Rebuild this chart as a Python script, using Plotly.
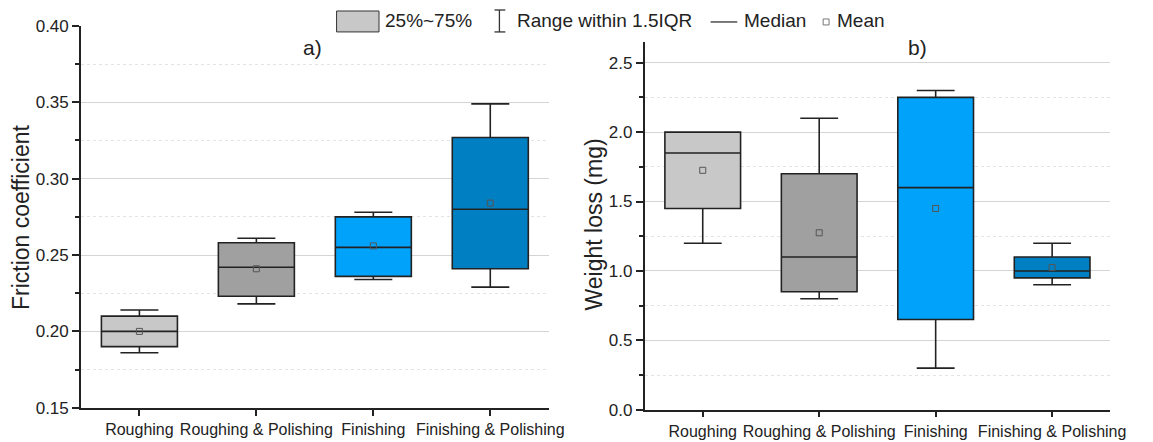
import plotly.graph_objects as go

# ---------------- data ----------------
categories = ["Roughing", "Roughing & Polishing", "Finishing", "Finishing & Polishing"]
colors = ["#C8C8C8", "#A0A0A0", "#00A2FA", "#0080C2"]

# a) Friction coefficient
fc_q1 = [0.190, 0.223, 0.236, 0.241]
fc_median = [0.200, 0.242, 0.255, 0.280]
fc_q3 = [0.210, 0.258, 0.275, 0.327]
fc_low = [0.186, 0.218, 0.234, 0.229]
fc_high = [0.214, 0.261, 0.278, 0.349]
fc_mean = [0.200, 0.241, 0.256, 0.284]

# b) Weight loss (mg)
wl_q1 = [1.45, 0.85, 0.65, 0.95]
wl_median = [1.85, 1.10, 1.60, 1.00]
wl_q3 = [2.00, 1.70, 2.25, 1.10]
wl_low = [1.20, 0.80, 0.30, 0.90]
wl_high = [2.00, 2.10, 2.30, 1.20]
wl_mean = [1.725, 1.275, 1.45, 1.025]

W, H = 1153, 442
FONT = "Arial, Liberation Sans, sans-serif"
DARK = "#222222"


def px(x):
    return x / W


def py(y):
    # vertical placement (pixels from top)
    yt = (y - 9) / 0.96
    return 1 - yt / H


fig = go.Figure()

for i, cat in enumerate(categories):
    fig.add_trace(go.Box(
        x=[cat], q1=[fc_q1[i]], median=[fc_median[i]], q3=[fc_q3[i]],
        lowerfence=[fc_low[i]], upperfence=[fc_high[i]],
        fillcolor=colors[i], line=dict(color=DARK, width=1.6),
        whiskerwidth=0.5, width=0.65, boxpoints=False, showlegend=False,
        xaxis="x", yaxis="y", hoverinfo="skip"))
    fig.add_trace(go.Box(
        x=[cat], q1=[wl_q1[i]], median=[wl_median[i]], q3=[wl_q3[i]],
        lowerfence=[wl_low[i]], upperfence=[wl_high[i]],
        fillcolor=colors[i], line=dict(color=DARK, width=1.6),
        whiskerwidth=0.5, width=0.65, boxpoints=False, showlegend=False,
        xaxis="x2", yaxis="y2", hoverinfo="skip"))

mean_marker = dict(symbol="square-open", size=6, color="#555555", line=dict(width=1))
fig.add_trace(go.Scatter(x=categories, y=fc_mean, mode="markers", marker=mean_marker,
                         showlegend=False, xaxis="x", yaxis="y", hoverinfo="skip"))
fig.add_trace(go.Scatter(x=categories, y=wl_mean, mode="markers", marker=mean_marker,
                         showlegend=False, xaxis="x2", yaxis="y2", hoverinfo="skip"))

xcommon = dict(type="category", range=[-0.5, 3.5], showline=True, linecolor=DARK,
               linewidth=1.5, ticks="outside", ticklen=6, tickwidth=1.5, tickcolor=DARK,
               showgrid=False, zeroline=False,
               tickfont=dict(family=FONT, size=16, color=DARK))
ycommon = dict(showline=True, linecolor=DARK, linewidth=1.5, ticks="outside",
               ticklen=7, tickwidth=1.5, tickcolor=DARK, showgrid=True,
               gridcolor="#D4D4D4", gridwidth=1, zeroline=False,
               tickfont=dict(family=FONT, size=17, color=DARK))

fig.update_layout(
    autosize=True, margin=dict(l=0, r=0, t=0, b=0),
    paper_bgcolor="white", plot_bgcolor="white", boxmode="overlay",
    xaxis=dict(domain=[px(82), px(556)], anchor="y", **xcommon),
    yaxis=dict(domain=[py(409), py(26)], anchor="x", range=[0.15, 0.40], dtick=0.05,
               tickformat=".2f",
               minor=dict(dtick=0.025, showgrid=True, gridcolor="#E4E4E4", griddash="dot",
                          ticks="outside", ticklen=4, tickcolor=DARK), **ycommon),
    xaxis2=dict(domain=[px(653), px(1125)], anchor="y2", **xcommon),
    yaxis2=dict(domain=[py(411), py(42)], anchor="x2", range=[0, 2.65], dtick=0.5,
                tickformat=".1f",
                minor=dict(dtick=0.25, showgrid=True, gridcolor="#E4E4E4", griddash="dot",
                           ticks="outside", ticklen=4, tickcolor=DARK), **ycommon),
)

annotations = [
    dict(text="Friction coefficient", x=px(22), y=py(218), textangle=-90,
         font=dict(family=FONT, size=23, color=DARK)),
    dict(text="Weight loss (mg)", x=px(602), y=py(225), textangle=-90,
         font=dict(family=FONT, size=23, color=DARK)),
    dict(text="a)", x=px(317), y=py(48), font=dict(family=FONT, size=21, color=DARK)),
    dict(text="b)", x=px(930), y=py(48), font=dict(family=FONT, size=21, color=DARK)),
    dict(text="25%~75%", x=px(388), y=py(21), xanchor="left",
         font=dict(family=FONT, size=19, color=DARK)),
    dict(text="Range within 1.5IQR", x=px(522), y=py(21), xanchor="left",
         font=dict(family=FONT, size=19, color=DARK)),
    dict(text="Median", x=px(752), y=py(21), xanchor="left",
         font=dict(family=FONT, size=19, color=DARK)),
    dict(text="Mean", x=px(846), y=py(21), xanchor="left",
         font=dict(family=FONT, size=19, color=DARK)),
]
for a in annotations:
    a.update(xref="paper", yref="paper", showarrow=False)
    a.setdefault("xanchor", "center")
    a.setdefault("yanchor", "middle")
fig.update_layout(annotations=annotations)

shapes = [
    dict(type="rect", x0=px(341), x1=px(384), y0=py(32), y1=py(11),
         fillcolor="#C8C8C8", line=dict(color="#333333", width=1)),
    dict(type="line", x0=px(506), x1=px(506), y0=py(32), y1=py(10),
         line=dict(color="#333333", width=1.3)),
    dict(type="line", x0=px(501), x1=px(512), y0=py(10), y1=py(10),
         line=dict(color="#333333", width=1.3)),
    dict(type="line", x0=px(501), x1=px(512), y0=py(32), y1=py(32),
         line=dict(color="#333333", width=1.3)),
    dict(type="line", x0=px(720), x1=px(747), y0=py(22), y1=py(22),
         line=dict(color="#333333", width=1.3)),
    dict(type="rect", x0=px(834), x1=px(840), y0=py(25), y1=py(19),
         fillcolor="white", line=dict(color="#777777", width=1)),
]
for s in shapes:
    s.update(xref="paper", yref="paper")
fig.update_layout(shapes=shapes)

fig.write_html(
    "out.html", config=dict(displayModeBar=False, responsive=False),
    default_width="1153px;position:fixed;left:0;top:0",
    default_height="442px",
)
